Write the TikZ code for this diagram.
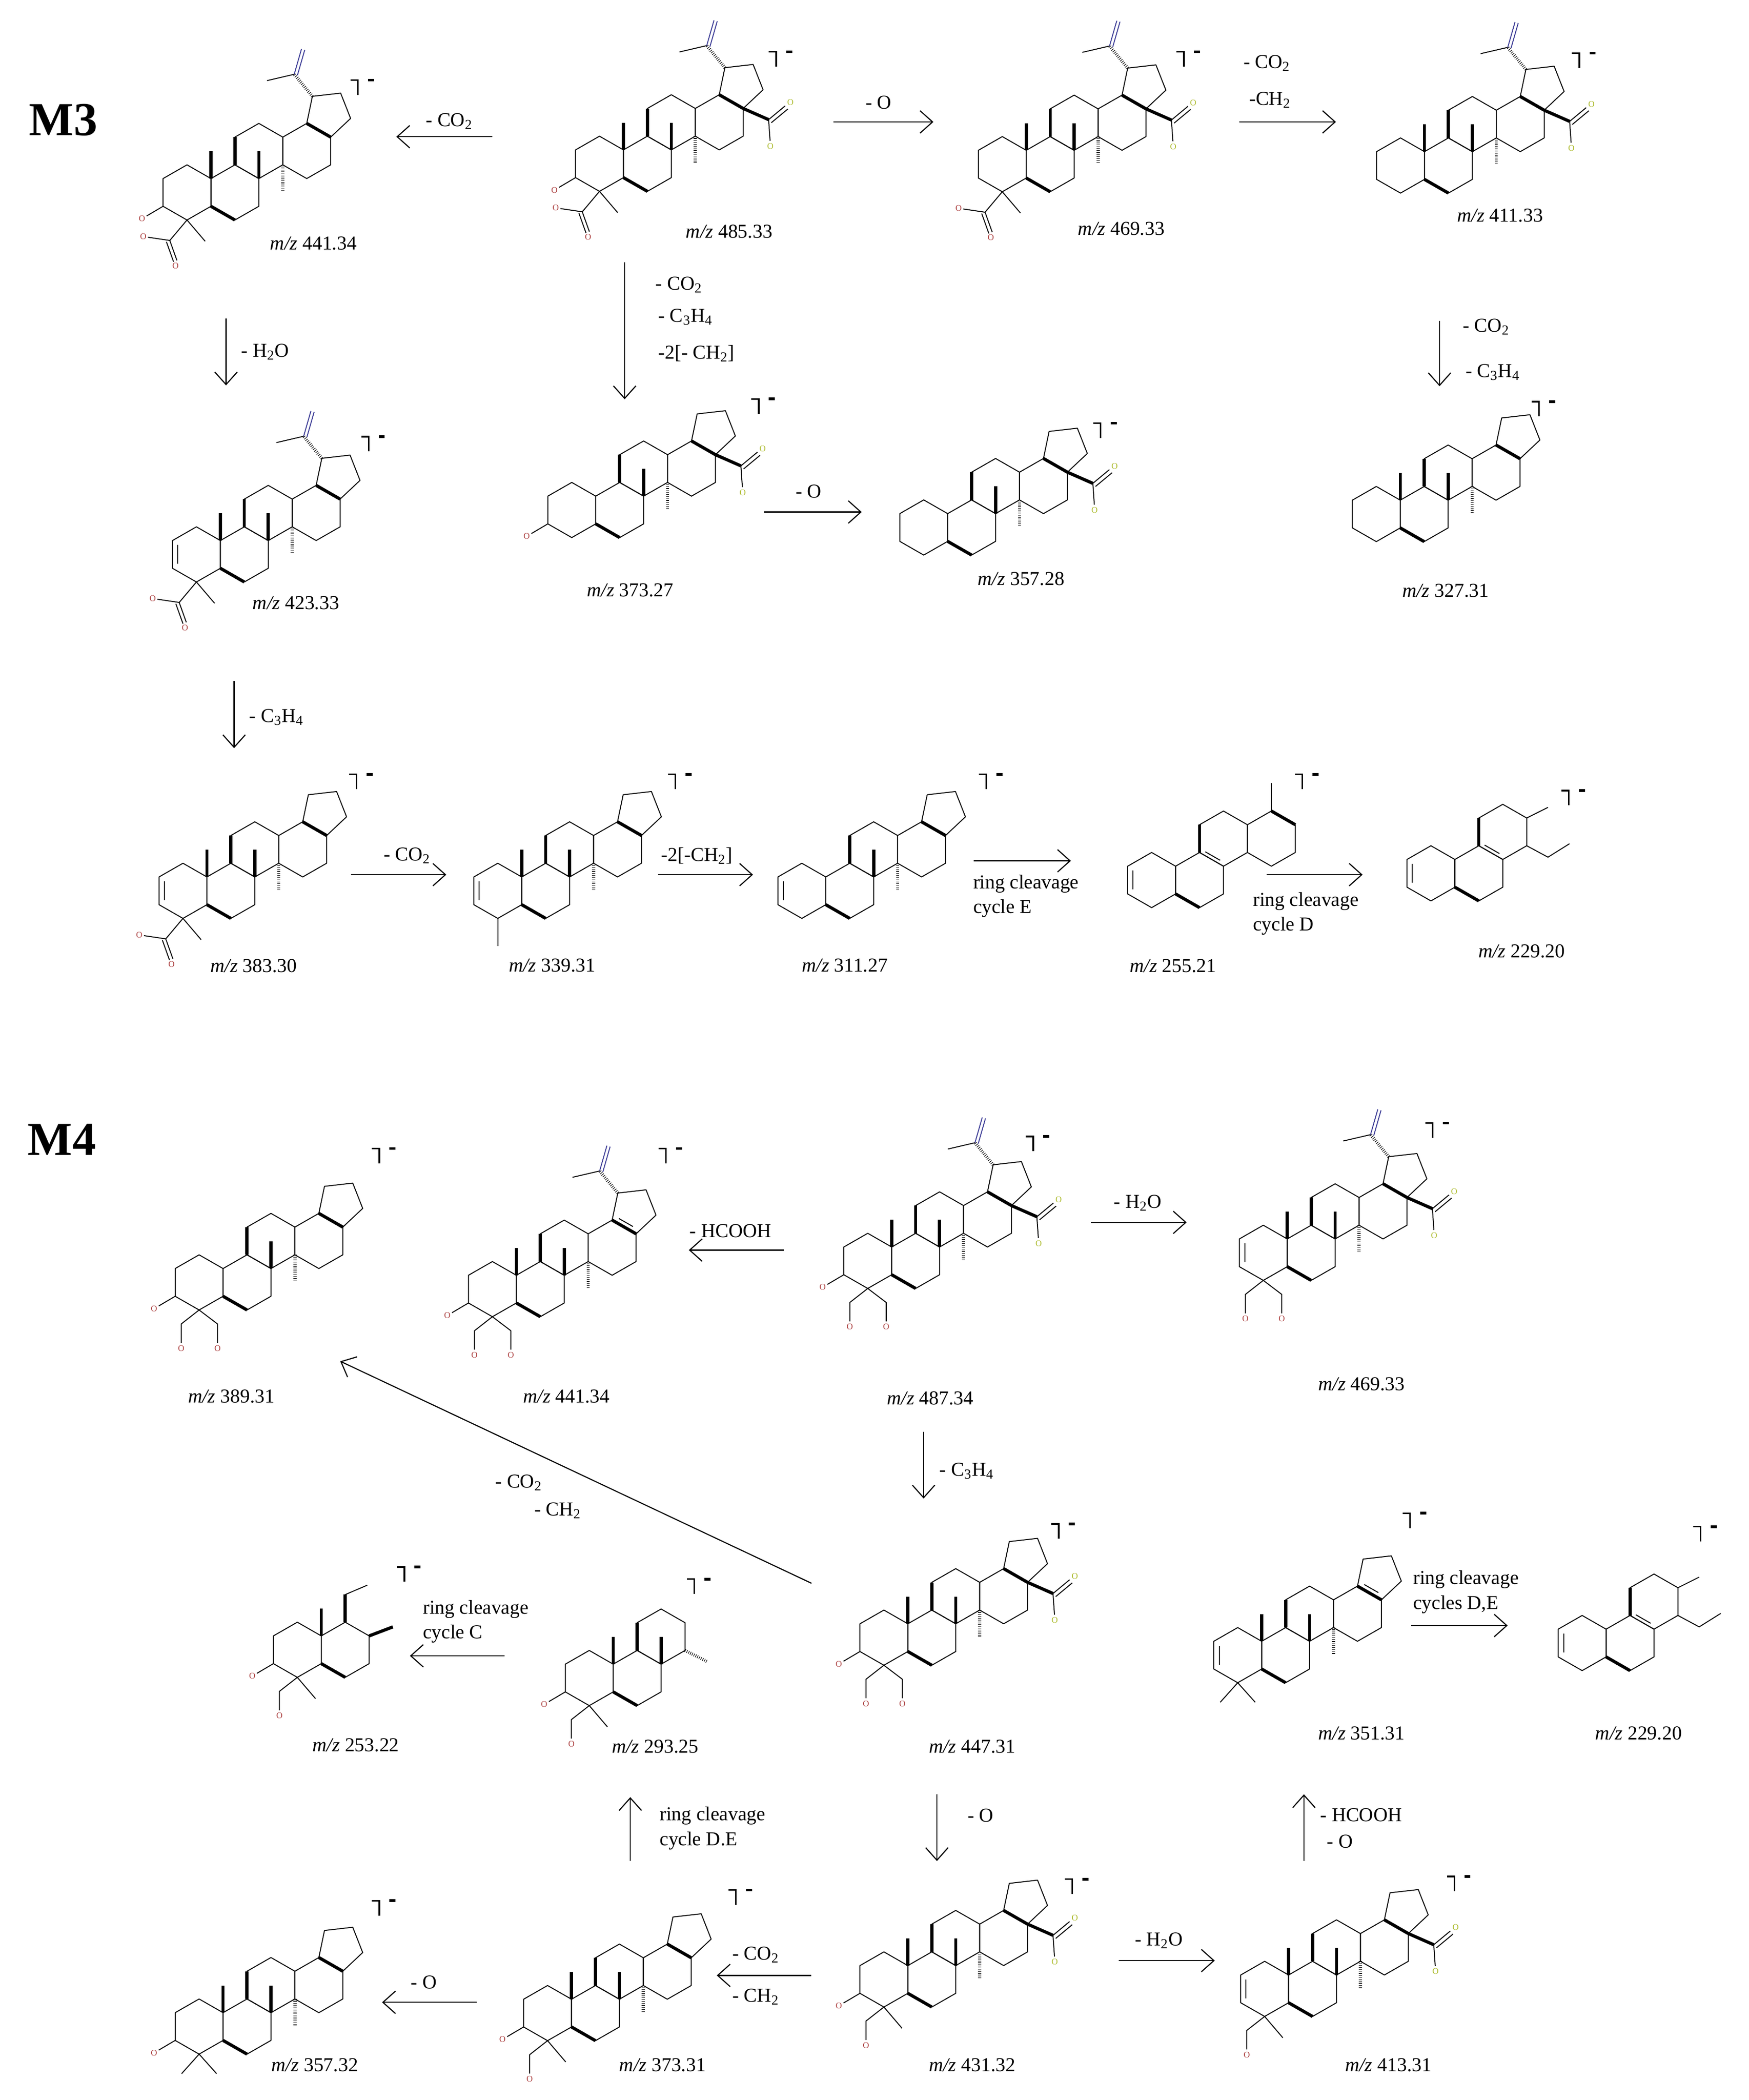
\documentclass[tikz,border=0pt]{standalone}
\usepackage{fontspec}
\setmainfont{Liberation Serif}
\usetikzlibrary{arrows.meta}
\definecolor{ored}{RGB}{170,60,60}
\definecolor{oyel}{RGB}{170,185,40}
\definecolor{iblue}{RGB}{60,60,150}
\tikzset{
 bd/.style={line width=0.6pt, line join=round},
 bb/.style={line width=2pt},
 hs/.style={line width=2pt, dash pattern=on 0.35pt off 0.9pt},
 atm/.style={font=\fontsize{5.5}{6}\selectfont, inner sep=0pt},
 mz/.style={font=\fontsize{12.5}{13}\selectfont, inner sep=1pt},
 lab/.style={font=\fontsize{12.5}{14}\selectfont, inner sep=1pt},
 labl/.style={font=\fontsize{12.5}{14}\selectfont, inner sep=1pt, anchor=west},
 rx/.style={line width=0.7pt, -{Straight Barb[length=2.8mm,width=5mm]}},
}
\newcommand\hexa[2]{\draw[bd] (#1,#2-20.5) -- (#1+17.8,#2-10.3) -- (#1+17.8,#2+10.3) -- (#1,#2+20.5) -- (#1-17.8,#2+10.3) -- (#1-17.8,#2-10.3) -- cycle;}
\newcommand\ringsAB{\hexa{0}{0}\hexa{35.6}{0}\draw[bb] (17.8,10.3) -- (35.6,20.5);}
\newcommand\ringC{\hexa{53.4}{-30.8}\draw[bb] (35.6,-20.5) -- (35.6,-41.1);}
\newcommand\ringD{\hexa{89}{-30.8}}
\newcommand\ringE{\draw[bd] (89,-51.3) -- (93.2,-71.4) -- (114.2,-73.8) -- (121.6,-55) -- (106.8,-41.1);\draw[bb] (89,-51.3) -- (106.8,-41.1);}
\newcommand\base{\ringsAB\ringC\ringD\ringE}
\newcommand\ringEdb{\draw[bd] (94,-52.5) -- (104.5,-46.5);}
\newcommand\dbA{\draw[bd] (-13.8,-7) -- (-13.8,7);}
\newcommand\dbBC{\draw[bd] (39.9,-21) -- (50.9,-14.7);}
\newcommand\meAB{\draw[bb] (17.8,-10.3) -- (17.8,-30.5);}
\newcommand\meBC{\draw[bb] (53.4,-10.3) -- (53.4,-30.5);}
\newcommand\meCD{\draw[hs] (71.2,-20.5) -- (71.2,-1);}
\newcommand\meall{\meAB\meBC\meCD}
\newcommand\isop{\draw[hs] (93.2,-71.4) -- (79.7,-87.8); \draw[bd] (79.7,-87.8) -- (59.5,-83.1); \draw[bd,iblue] (79.7,-87.8) -- (85.1,-106.6) (82.1,-87.1) -- (87.5,-105.9);}
\newcommand\coohE[1]{\draw[bb] (106.8,-41.1) -- (125.7,-32.8); \draw[bd] (125.7,-32.8) -- (138,-43) (127.7,-30.5) -- (140,-40.7); \draw[bd] (125.7,-32.8) -- (126.8,-17); \node[atm,text=oyel] (#1-o1) at (141.9,-45.7) {O}; \node[atm,text=oyel] (#1-o2) at (127,-13) {O};}
\newcommand\othree[1]{\draw[bd] (-17.8,10.3) -- (-30,17.5); \node[atm,text=ored] (#1-o3) at (-33.5,19.5) {O};}
\newcommand\coohA[1]{\draw[bd] (0,20.5) -- (-12.8,35.7); \draw[bd] (-12.8,35.7) -- (-29,33.3); \draw[bd] (-12.8,35.7) -- (-7.5,50.5) (-15.3,36.7) -- (-10,51.5); \node[atm,text=ored] (#1-oa) at (-32.5,32.8) {O}; \node[atm,text=ored] (#1-ob) at (-8.5,54.5) {O};}
\newcommand\meFour{\draw[bd] (0,20.5) -- (13.5,36.3);}
\newcommand\gem{\draw[bd] (0,20.5) -- (-13,35) (0,20.5) -- (13,35);}
\newcommand\chtwoL[1]{\draw[bd] (0,20.5) -- (-13.3,30.9) -- (-13.3,45); \node[atm,text=ored] (#1-ol) at (-13.3,49) {O};}
\newcommand\chtwoR[1]{\draw[bd] (0,20.5) -- (13.7,30.9) -- (13.7,45); \node[atm,text=ored] (#1-or) at (13.7,49) {O};}
\newcommand\brk[2]{\draw[line width=1pt] (#1-5.5,#2-5.5) -- (#1,#2-5.5) -- (#1,#2+5.5); \fill (#1+7.5,#2-6.5) rectangle (#1+12,#2-4.5);}
\newcommand\frag{\ringsAB\ringC\dbA\dbBC\draw[bd] (71.2,-41.1) -- (87,-49); \draw[bd] (71.2,-20.5) -- (87,-12) -- (103,-22);}
\begin{document}
\begin{tikzpicture}[x=0.03cm,y=-0.03cm]
\path[use as bounding box] (0,0) rectangle (1300,1560.6);
\node[font=\bfseries\fontsize{30}{30}\selectfont] (M3) at (47,89) {M3};
\node[font=\bfseries\fontsize{30}{30}\selectfont] (M4) at (46,847) {M4};
% ---------------- M3 ----------------
\begin{scope}[shift={(139,143)}]\base\meall\isop\othree{m1}\coohA{m1}\meFour\end{scope}
\node[mz] (l1) at (233,181) {\textit{m/z} 441.34}; \brk{266}{65}
\begin{scope}[shift={(445.6,121.7)}]\base\meall\isop\coohE{m2}\othree{m2}\coohA{m2}\meFour\end{scope}
\node[mz] (l2) at (542,172) {\textit{m/z} 485.33}; \brk{577}{44}
\begin{scope}[shift={(745,122)}]\base\meall\isop\coohE{m3}\coohA{m3}\meFour\end{scope}
\node[mz] (l3) at (833.5,170) {\textit{m/z} 469.33}; \brk{880}{44}
\begin{scope}[shift={(1041,123)}]\base\meall\isop\coohE{m4}\end{scope}
\node[mz] (l4) at (1115,160) {\textit{m/z} 411.33}; \brk{1174}{45}
\begin{scope}[shift={(146,412)}]\base\dbA\meall\isop\coohA{m5}\meFour\end{scope}
\node[mz] (l5) at (220,448) {\textit{m/z} 423.33}; \brk{274}{330}
\begin{scope}[shift={(425,379)}]\base\meBC\meCD\othree{m6}\coohE{m6}\end{scope}
\node[mz] (l6) at (468.5,438.5) {\textit{m/z} 373.27}; \brk{564}{302}
\begin{scope}[shift={(686.6,392)}]\base\meBC\meCD\coohE{m7}\end{scope}
\node[mz] (l7) at (759,430) {\textit{m/z} 357.28}; \brk{818}{320}
\begin{scope}[shift={(1023,382)}]\base\meall\end{scope}
\node[mz] (l8) at (1074.5,439) {\textit{m/z} 327.31}; \brk{1144}{304}
\begin{scope}[shift={(136,662)}]\base\dbA\meall\coohA{m9}\meFour\end{scope}
\node[mz] (l9) at (188.6,717.6) {\textit{m/z} 383.30}; \brk{265}{581}
\begin{scope}[shift={(370,662)}]\base\dbA\meall\draw[bd] (0,20.5) -- (0,41);\end{scope}
\node[mz] (l10) at (410.4,717.6) {\textit{m/z} 339.31}; \brk{502}{581}
\begin{scope}[shift={(596,662)}]\base\dbA\meBC\meCD\end{scope}
\node[mz] (l11) at (628,717.6) {\textit{m/z} 311.27}; \brk{733}{581}
\begin{scope}[shift={(856,654)}]\ringsAB\ringC\ringD\dbA\dbBC\draw[bd] (89,-51.3) -- (89,-72);\draw[bb] (89,-51.3) -- (106.8,-41.1);\end{scope}
\node[mz] (l12) at (872,717.7) {\textit{m/z} 255.21}; \brk{968}{581}
\begin{scope}[shift={(1063.6,649)}]\frag\end{scope}
\node[mz] (l13) at (1131,707) {\textit{m/z} 229.20}; \brk{1166}{593}
% M3 arrows
\coordinate (a1s) at (366,101.6); \coordinate (a1e) at (294.6,101.6);
\draw[rx] (a1s) -- (a1e); \node[lab] (t1) at (334,90) {- CO\textsubscript{2}};
\coordinate (a2s) at (619.5,90.6); \coordinate (a2e) at (693.8,90.6);
\draw[rx] (a2s) -- (a2e); \node[lab] (t2) at (653,76) {- O};
\coordinate (a3s) at (921,90.6); \coordinate (a3e) at (993,90.6);
\draw[rx] (a3s) -- (a3e); \node[lab] (t3a) at (941.6,47) {- CO\textsubscript{2}}; \node[lab] (t3b) at (944,74.5) {-CH\textsubscript{2}};
\coordinate (a4s) at (168,236.6); \coordinate (a4e) at (168,286.4);
\draw[rx] (a4s) -- (a4e); \node[labl] (t4) at (178,261.5) {- H\textsubscript{2}O};
\coordinate (a5s) at (464.3,195); \coordinate (a5e) at (464.3,296.7);
\draw[rx] (a5s) -- (a5e); \node[labl] (t5a) at (486,211.8) {- CO\textsubscript{2}}; \node[labl] (t5b) at (488,235.4) {- C\textsubscript{3}H\textsubscript{4}}; \node[labl] (t5c) at (488,262.7) {-2[- CH\textsubscript{2}]};
\coordinate (a6s) at (1070,238.6); \coordinate (a6e) at (1070,287);
\draw[rx] (a6s) -- (a6e); \node[labl] (t6a) at (1086,243) {- CO\textsubscript{2}}; \node[labl] (t6b) at (1088,276.6) {- C\textsubscript{3}H\textsubscript{4}};
\coordinate (a7s) at (568,380.5); \coordinate (a7e) at (640.5,380.5);
\draw[rx] (a7s) -- (a7e); \node[lab] (t7) at (601,365) {- O};
\coordinate (a8s) at (174,506); \coordinate (a8e) at (174,556);
\draw[rx] (a8s) -- (a8e); \node[labl] (t8) at (184,533) {- C\textsubscript{3}H\textsubscript{4}};
\coordinate (a9s) at (261,650); \coordinate (a9e) at (331.7,650);
\draw[rx] (a9s) -- (a9e); \node[lab] (t9) at (302.6,636) {- CO\textsubscript{2}};
\coordinate (a10s) at (489,650); \coordinate (a10e) at (559.7,650);
\draw[rx] (a10s) -- (a10e); \node[lab] (t10) at (518,636) {-2[-CH\textsubscript{2}]};
\coordinate (a11s) at (723.8,639.7); \coordinate (a11e) at (796,639.7);
\draw[rx] (a11s) -- (a11e); \node[labl] (t11a) at (722,657) {ring cleavage}; \node[labl] (t11b) at (722,675) {cycle E};
\coordinate (a12s) at (941.5,650); \coordinate (a12e) at (1012.8,650);
\draw[rx] (a12s) -- (a12e); \node[labl] (t12a) at (930,670) {ring cleavage}; \node[labl] (t12b) at (930,688) {cycle D};
% ---------------- M4 ----------------
\begin{scope}[shift={(148,953)}]\base\meBC\meCD\othree{n1}\chtwoL{n1}\chtwoR{n1}\end{scope}
\node[mz] (k1) at (172,1037.7) {\textit{m/z} 389.31}; \brk{282}{859}
\begin{scope}[shift={(366,958)}]\base\meall\isop\ringEdb\othree{n2}\chtwoL{n2}\chtwoR{n2}\end{scope}
\node[mz] (k2) at (421,1037.7) {\textit{m/z} 441.34}; \brk{495}{859}
\begin{scope}[shift={(645,937)}]\base\meall\isop\coohE{n3}\othree{n3}\chtwoL{n3}\chtwoR{n3}\end{scope}
\node[mz] (k3) at (691.5,1039) {\textit{m/z} 487.34}; \brk{768}{850}
\begin{scope}[shift={(939,931)}]\base\dbA\meall\isop\coohE{n4}\chtwoL{n4}\chtwoR{n4}\end{scope}
\node[mz] (k4) at (1012,1028.7) {\textit{m/z} 469.33}; \brk{1065}{840}
\begin{scope}[shift={(657,1217)}]\base\meall\coohE{n5}\othree{n5}\chtwoL{n5}\chtwoR{n5}\end{scope}
\node[mz] (k5) at (722.6,1298) {\textit{m/z} 447.31}; \brk{787}{1138}
\begin{scope}[shift={(920,1230)}]\base\dbA\meall\ringEdb\gem\end{scope}
\node[mz] (k6) at (1012,1288) {\textit{m/z} 351.31}; \brk{1048}{1130}
\begin{scope}[shift={(1176,1221)}]\frag\end{scope}
\node[mz] (k7) at (1218,1288) {\textit{m/z} 229.20}; \brk{1264}{1140}
\begin{scope}[shift={(221,1226)}]\ringsAB\meAB\othree{n8}\chtwoL{n8}\meFour\draw[bb] (35.6,-20.5) -- (35.6,-41); \draw[bd] (35.6,-41) -- (52,-48); \draw[bb] (53.4,-10.3) -- (71,-17);\end{scope}
\node[mz] (k8) at (264.5,1297) {\textit{m/z} 253.22}; \brk{300.6}{1170}
\begin{scope}[shift={(438,1247)}]\ringsAB\ringC\meAB\meBC\othree{n9}\chtwoL{n9}\meFour\draw[hs] (71.2,-20.5) -- (88,-12);\end{scope}
\node[mz] (k9) at (487,1298) {\textit{m/z} 293.25}; \brk{516}{1179}
\begin{scope}[shift={(657,1471)}]\base\meall\coohE{n10}\othree{n10}\chtwoL{n10}\meFour\end{scope}
\node[mz] (k10) at (722.6,1534.5) {\textit{m/z} 431.32}; \brk{797}{1402}
\begin{scope}[shift={(940,1478)}]\base\dbA\meall\coohE{n11}\chtwoL{n11}\meFour\end{scope}
\node[mz] (k11) at (1032,1534.5) {\textit{m/z} 413.31}; \brk{1081}{1400}
\begin{scope}[shift={(148,1506)}]\base\meall\othree{n12}\gem\end{scope}
\node[mz] (k12) at (234,1534.5) {\textit{m/z} 357.32}; \brk{282}{1418}
\begin{scope}[shift={(407,1496)}]\base\meall\othree{n13}\chtwoL{n13}\meFour\end{scope}
\node[mz] (k13) at (492.5,1534.5) {\textit{m/z} 373.31}; \brk{547}{1410}
% M4 arrows
\coordinate (b1s) at (582.5,929); \coordinate (b1e) at (512,929);
\draw[rx] (b1s) -- (b1e); \node[lab] (u1) at (543,914.6) {- HCOOH};
\coordinate (b2s) at (810.9,908.4); \coordinate (b2e) at (882,908.4);
\draw[rx] (b2s) -- (b2e); \node[lab] (u2) at (845.7,894) {- H\textsubscript{2}O};
\coordinate (b3s) at (686.5,1064); \coordinate (b3e) at (686.5,1113.6);
\draw[rx] (b3s) -- (b3e); \node[labl] (u3) at (697,1093) {- C\textsubscript{3}H\textsubscript{4}};
\coordinate (b4s) at (603.2,1176.6); \coordinate (b4e) at (252.9,1011.6);
\draw[rx] (b4s) -- (b4e); \node[lab] (u4a) at (385.6,1102) {- CO\textsubscript{2}}; \node[lab] (u4b) at (414.6,1122.7) {- CH\textsubscript{2}};
\coordinate (b5s) at (375.2,1230.5); \coordinate (b5e) at (304.7,1230.5);
\draw[rx] (b5s) -- (b5e); \node[labl] (u5a) at (313,1196) {ring cleavage}; \node[labl] (u5b) at (313,1214) {cycle C};
\coordinate (b6s) at (468.5,1383); \coordinate (b6e) at (468.5,1335.5);
\draw[rx] (b6s) -- (b6e); \node[labl] (u6a) at (489,1349.5) {ring cleavage}; \node[labl] (u6b) at (489,1368) {cycle D.E};
\coordinate (b7s) at (696.4,1333.4); \coordinate (b7e) at (696.4,1383);
\draw[rx] (b7s) -- (b7e); \node[lab] (u7) at (728.8,1349) {- O};
\coordinate (b8s) at (831.6,1457); \coordinate (b8e) at (902.9,1457);
\draw[rx] (b8s) -- (b8e); \node[lab] (u8) at (861.4,1442) {- H\textsubscript{2}O};
\coordinate (b9s) at (969.2,1383); \coordinate (b9e) at (969.2,1333.4);
\draw[rx] (b9s) -- (b9e); \node[labl] (u9a) at (980,1348.7) {- HCOOH}; \node[labl] (u9b) at (985,1368.6) {- O};
\coordinate (b10s) at (1049,1208); \coordinate (b10e) at (1120.6,1208);
\draw[rx] (b10s) -- (b10e); \node[labl] (u10a) at (1049,1173.8) {ring cleavage}; \node[labl] (u10b) at (1049,1192.4) {cycles D,E};
\coordinate (b11s) at (354.5,1488); \coordinate (b11e) at (284,1488);
\draw[rx] (b11s) -- (b11e); \node[lab] (u11) at (315,1473) {- O};
\coordinate (b12s) at (603,1468); \coordinate (b12e) at (532.8,1468);
\draw[rx] (b12s) -- (b12e); \node[lab] (u12a) at (561.8,1452.8) {- CO\textsubscript{2}}; \node[lab] (u12b) at (561.8,1484) {- CH\textsubscript{2}};
\end{tikzpicture}
\end{document}
